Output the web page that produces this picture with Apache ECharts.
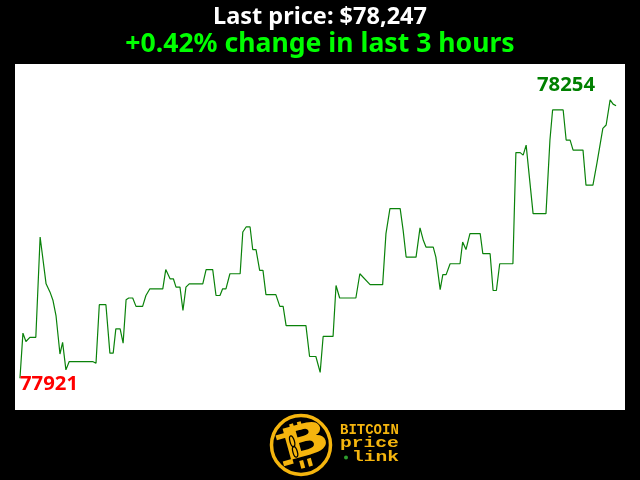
<!DOCTYPE html>
<html><head><meta charset="utf-8">
<style>html,body{margin:0;padding:0;background:#000}#c{width:640px;height:480px}</style>
<script src="https://cdn.jsdelivr.net/npm/echarts@6/dist/echarts.min.js"></script></head>
<body><div id="c"></div><script>
const minutes=[0,0.9,1.8,3,4.8,6.1,7.9,9.1,10,10.9,12.1,12.9,13.9,14.9,22,23,24,26,27.2,28.2,29,30.3,31.2,32.1,32.9,34.1,35.1,37.1,38.1,39.3,43.2,44.1,45.4,46.4,47.2,48.4,49.3,50.2,51.2,55.3,56.3,58.3,59.3,60.5,61.3,62.3,63.5,66.6,67.4,68.4,69.6,70.4,71.4,72.5,73.5,74.4,77.4,78.6,79.6,80.5,86.5,87.6,89.5,90.8,91.7,94.7,95.6,96.7,101.6,102.8,105.9,109.7,110.7,111.9,115,115.9,116.8,119.8,121,122,122.8,125,125.8,127.1,127.9,128.9,130.1,133.1,133.9,134.9,136.1,139.2,140,142.2,143.1,144.1,145.1,149.1,150,151.3,152.2,153.1,155.2,159.1,160.3,161.1,164.3,165.2,166.4,167.3,170.3,171.2,173.3,174.5,176.3,177.3,178.5,179.4,180.3];
const prices=[77921,77975,77965,77970,77970,78090,78034,78024,78014,77996,77950,77964,77931,77941,77941,77939,78009,78009,77951,77951,77980,77980,77963,78015,78017,78017,78007,78007,78020,78028,78028,78051,78040,78040,78030,78030,78002,78030,78034,78034,78051,78051,78020,78020,78028,78028,78046,78046,78096,78102,78102,78075,78075,78050,78050,78021,78021,78007,78007,77984,77984,77947,77947,77928,77971,77971,78032,78017,78017,78046,78033,78033,78094,78124,78124,78098,78066,78066,78101,78086,78078,78078,78066,78027,78045,78045,78058,78058,78084,78075,78094,78094,78070,78070,78026,78026,78058,78058,78191,78191,78188,78200,78118,78118,78206,78242,78242,78206,78206,78194,78194,78152,78152,78178,78220,78224,78254,78249,78247];
const lowLabel='77921', highLabel='78254';
const titleLine='Last price: $78,247', changeLine='+0.42% change in last 3 hours';
const font='"Noto Sans"';
const gold='#f5b50e';
const chart=echarts.init(document.getElementById('c'),null,{renderer:'canvas'});
const bar=(x,y,w,h)=>({type:'rect',shape:{x:x,y:y,width:w,height:h},style:{fill:gold}});
chart.setOption({
 backgroundColor:'#000',animation:false,
 grid:{left:15,top:64,width:610,height:346,show:true,backgroundColor:'#fff',borderWidth:0},
 xAxis:{type:'value',min:-1.5,max:183,show:false},
 yAxis:{type:'value',min:77883,max:78297,show:false},
 title:[
  {text:titleLine,left:315,textAlign:'center',top:0,textStyle:{color:'#fff',fontFamily:font,fontWeight:'bold',fontSize:23.5}},
  {text:changeLine,left:315,textAlign:'center',top:26,textStyle:{color:'#0f0',fontFamily:font,fontWeight:'bold',fontSize:26.6}},
  {text:lowLabel,left:15,top:369,textStyle:{color:'#f00',fontFamily:font,fontWeight:'bold',fontSize:20.3}},
  {text:highLabel,left:532,top:70,textStyle:{color:'#008000',fontFamily:font,fontWeight:'bold',fontSize:20.3}}
 ],
 series:[{type:'line',data:minutes.map((m,i)=>[m,prices[i]]),showSymbol:false,lineStyle:{color:'#0a820a',width:1.2},silent:true}],
 graphic:[
  {type:'circle',shape:{cx:301,cy:445,r:29.5},style:{fill:'none',stroke:gold,lineWidth:3.5}},
  {type:'group',x:301,y:445,rotation:0.27,children:[
    {type:'text',x:5,y:0,scaleX:1.45,style:{text:'B',x:0,y:0,align:'center',verticalAlign:'middle',fill:gold,font:'900 44px "DejaVu Sans"'}},
    bar(-6,-23,4,8),bar(2,-23,4,8),bar(-6,15,4,8),bar(2,15,4,8),
    bar(-22,-16,10,5),bar(-22,11,10,5),
    {type:'ellipse',shape:{cx:-7.5,cy:-6,rx:2.2,ry:5.5},style:{fill:'none',stroke:'#000',lineWidth:1.3}},
    {type:'ellipse',shape:{cx:-7.5,cy:5,rx:2.2,ry:5.5},style:{fill:'none',stroke:'#000',lineWidth:1.3}}
  ]},
  {type:'text',x:340,y:423,style:{text:'BITCOIN',fill:gold,font:'bold 14px "Liberation Mono"'}},
  {type:'text',x:340,y:436,scaleX:1.4,style:{text:'price',fill:gold,font:'bold 14px "Liberation Mono"'}},
  {type:'text',x:352,y:450,scaleX:1.4,style:{text:'link',fill:gold,font:'bold 14px "Liberation Mono"'}},
  {type:'circle',shape:{cx:346,cy:457.5,r:2},style:{fill:'#2e9e2e'}}
 ]
});
</script></body></html>
